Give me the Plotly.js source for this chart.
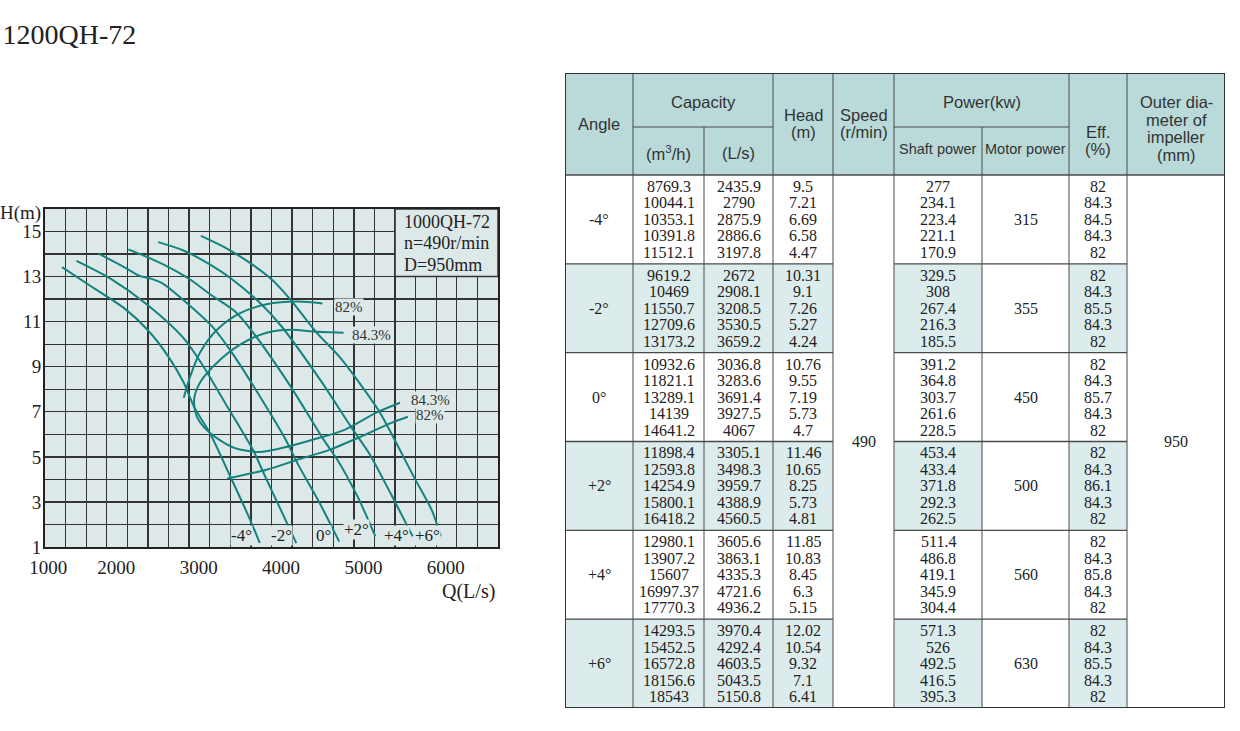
<!DOCTYPE html>
<html><head><meta charset="utf-8">
<script src="https://cdn.plot.ly/plotly-3.0.1.min.js"></script>
<style>html,body{margin:0;padding:0;background:#fff}#chart{width:1240px;height:731px}</style>
</head><body><div id="chart"></div>
<script>
// ---------------- chart data ----------------
const angleLabels = ['-4°','-2°','0°','+2°','+4°','+6°'];
// Q (L/s) and H (m) along each blade-angle curve
const qM4 = [1206,1567,1961,2250,2500,2685,2810,3000,3250,3488,3607];
const hM4 = [13.42,12.55,11.6,10.62,9.44,8.29,7.22,6.07,4.13,2.23,1.18];
const qM2 = [1382,1800,2250,2672,2908.1,3208.5,3530.5,3659.2,3850,4051];
const hM2 = [13.70,12.9,11.73,10.31,9.1,7.26,5.27,4.24,2.75,1.17];
const q0  = [1650,1961,2137,2296,2421,2700,3036.8,3283.6,3691.4,3927.5,4067,4320,4572];
const h0  = [14.02,13.42,13.05,12.9,12.71,11.9,10.76,9.55,7.19,5.73,4.7,3.05,1.24];
const qP2 = [2012,2250,2500,2762,3000,3305.1,3498.3,3959.7,4388.9,4560.5,4800,5011];
const hP2 = [14.21,13.85,13.42,12.87,12.23,11.46,10.65,8.25,5.73,4.81,3.2,1.47];
const qP4 = [2375,2681,2964,3254,3605.6,3863.1,4335.3,4721.6,4936.2,5200,5464];
const hP4 = [14.53,14.16,13.62,12.93,11.85,10.83,8.45,6.3,5.15,3.35,1.47];
const qP6 = [2893,3171,3492,3760,3970.4,4292.4,4603.5,5043.5,5150.8,5480,5700,5805];
const hP6 = [14.81,14.32,13.6,12.85,12.02,10.54,9.32,7.1,6.41,4.1,2.6,1.47];
// iso-efficiency curves
const eff82UpQ = [2685,2762,2881,3088,3369,3690,4065,4369];
const eff82UpH = [7.62,8.56,9.62,10.64,11.38,11.77,11.89,11.81];
const eff82LoQ = [3212,3690,4065,4452,4830,5205,5405];
const eff82LoH = [4.04,4.43,4.87,5.31,5.89,6.51,6.78];
const eff843Q = [4625,4250,4000,3690,3369,3088,2881,2810,2845,3000,3298,3607,3887,4250,4637,5023,5310];
const eff843H = [10.51,10.56,10.64,10.51,9.98,9.18,8.29,7.53,6.78,6.07,5.40,5.22,5.40,5.76,6.20,6.96,7.40];
const xTickLabels = ['1000','2000','3000','4000','5000','6000'];
const yTickLabels = ['1','3','5','7','9','11','13','15'];
const infoLines = ['1000QH-72','n=490r/min','D=950mm'];

// ---------------- table data ----------------
const tblAngles = ['-4°','-2°','0°','+2°','+4°','+6°'];
const capM3h = [
  [8769.3,10044.1,10353.1,10391.8,11512.1],
  [9619.2,10469,11550.7,12709.6,13173.2],
  [10932.6,11821.1,13289.1,14139,14641.2],
  [11898.4,12593.8,14254.9,15800.1,16418.2],
  [12980.1,13907.2,15607,16997.37,17770.3],
  [14293.5,15452.5,16572.8,18156.6,18543]];
const capLs = [
  [2435.9,2790,2875.9,2886.6,3197.8],
  [2672,2908.1,3208.5,3530.5,3659.2],
  [3036.8,3283.6,3691.4,3927.5,4067],
  [3305.1,3498.3,3959.7,4388.9,4560.5],
  [3605.6,3863.1,4335.3,4721.6,4936.2],
  [3970.4,4292.4,4603.5,5043.5,5150.8]];
const headM = [
  [9.5,7.21,6.69,6.58,4.47],
  [10.31,9.1,7.26,5.27,4.24],
  [10.76,9.55,7.19,5.73,4.7],
  [11.46,10.65,8.25,5.73,4.81],
  [11.85,10.83,8.45,6.3,5.15],
  [12.02,10.54,9.32,7.1,6.41]];
const shaftPower = [
  [277,234.1,223.4,221.1,170.9],
  [329.5,308,267.4,216.3,185.5],
  [391.2,364.8,303.7,261.6,228.5],
  [453.4,433.4,371.8,292.3,262.5],
  [511.4,486.8,419.1,345.9,304.4],
  [571.3,526,492.5,416.5,395.3]];
const motorPower = [315,355,450,500,560,630];
const effPct = [
  [82,84.3,84.5,84.3,82],
  [82,84.3,85.5,84.3,82],
  [82,84.3,85.7,84.3,82],
  [82,84.3,86.1,84.3,82],
  [82,84.3,85.8,84.3,82],
  [82,84.3,85.5,84.3,82]];
const speedRpm = 490;
const impellerMm = 950;

// ---------------- styles ----------------
const TEAL = '#14827f';
const PLOTBG = '#dde9e9';
const HEADBG = '#b9dad8';
const BANDBG = '#dcebeb';
const GRID = '#333333';
const TLINE = '#4a4a4a';
const SERIF = 'Liberation Serif, Times New Roman, serif';
const SANS = 'Liberation Sans, Arial, sans-serif';

const curveQ = [qM4,qM2,q0,qP2,qP4,qP6];
const curveH = [hM4,hM2,h0,hP2,hP4,hP6];
const traces = curveQ.map((q,i)=>({
  type:'scatter', mode:'lines', x:q, y:curveH[i], name:angleLabels[i],
  line:{color:TEAL,width:2,shape:'spline',smoothing:0.8}, hoverinfo:'skip'
}));
[[eff82UpQ,eff82UpH],[eff82LoQ,eff82LoH],[eff843Q,eff843H]].forEach(p=>{
  traces.push({type:'scatter',mode:'lines',x:p[0],y:p[1],
    line:{color:TEAL,width:2,shape:'spline',smoothing:0.8},hoverinfo:'skip'});
});

// grid every 250 L/s and every 1 m; labels only at the listed values
const xMin = 1000, xMax = 6500, yMin = 1, yMax = 16;
const xGrid = [], xGridText = [];
for(let v=xMin; v<=xMax; v+=250){
  xGrid.push(v);
  const lab = xTickLabels.find(t=>+t===v);
  // first label sits just right of the corner, as in the original
  xGridText.push(lab ? (v===xMin ? '\u2007\u2007\u2007'+lab : lab) : '');
}
const yGrid = [], yGridText = [];
for(let v=yMin; v<=yMax; v+=1){
  yGrid.push(v);
  const lab = yTickLabels.find(t=>+t===v);
  yGridText.push(lab || '');
}

// ---------------- layout geometry ----------------
const annotations = [];
const shapes = [];

// info box in the chart
shapes.push({type:'rect',xref:'x',yref:'y',x0:5250,x1:6500,y0:13,y1:16,
  fillcolor:PLOTBG,line:{color:GRID,width:1.5},layer:'above'});
const infoY = [15.43,14.48,13.53];
infoLines.forEach((t,i)=>annotations.push({xref:'x',yref:'y',x:5333,y:infoY[i],text:t,
  showarrow:false,xanchor:'left',yanchor:'middle',font:{family:SERIF,size:18,color:'#222'}}));

// angle labels at the curve feet
const angPos = [[3381,1.5],[3875,1.5],[4381,1.5],[4784,1.77],[5262,1.5],[5648,1.5]];
angleLabels.forEach((t,i)=>annotations.push({xref:'x',yref:'y',x:angPos[i][0],y:angPos[i][1],
  text:t,showarrow:false,bgcolor:PLOTBG,borderpad:0,font:{family:SERIF,size:17,color:'#222'}}));

// efficiency labels
[['82%',4511,11.64],['84.3%',4717,10.42],['84.3%',5429,7.53],['82%',5488,6.87]].forEach(e=>
  annotations.push({xref:'x',yref:'y',x:e[1],y:e[2],text:e[0],showarrow:false,xanchor:'left',
    yanchor:'middle',bgcolor:PLOTBG,borderpad:0,font:{family:SERIF,size:15,color:'#333'}}));

// axis titles
annotations.push({xref:'x domain',yref:'y domain',x:-0.004,y:0.988,text:'H(m)',showarrow:false,
  xanchor:'right',yanchor:'middle',font:{family:SERIF,size:19,color:'#222'}});
annotations.push({xref:'x domain',yref:'y domain',x:0.998,y:-0.131,text:'Q(L/s)',showarrow:false,
  xanchor:'right',yanchor:'middle',font:{family:SERIF,size:20,color:'#222'}});

// ---------------- table (drawn on its own hidden axes) ----------------
const colEdges = [0,68,139,208,268,329,417,504,562,660];
const headMid = 54, headBot = 102, tblBot = 635;
const grpH = (tblBot-headBot)/tblAngles.length;
const cx = c => (colEdges[c]+colEdges[c+1])/2;
const T = (x0,x1,y0,y1,fill)=>shapes.push({type:'rect',xref:'x2',yref:'y2',x0,x1,y0,y1,
  fillcolor:fill,line:{width:0},layer:'below'});
const L = (x0,y0,x1,y1,w)=>shapes.push({type:'line',xref:'x2',yref:'y2',x0,y0,x1,y1,
  line:{color:TLINE,width:w||1}});
// fills
T(0,660,0,headBot,HEADBG);
T(0,660,headBot,tblBot,'#ffffff');
const bandCols = [0,1,2,3,5,7];
tblAngles.forEach((a,g)=>{ if(g%2===1) bandCols.forEach(c=>T(colEdges[c],colEdges[c+1],headBot+g*grpH,headBot+(g+1)*grpH,BANDBG)); });
// vertical lines
for(let c=1;c<colEdges.length-1;c++){
  const top = (c===2||c===6)?headMid:0;
  L(colEdges[c],top,colEdges[c],tblBot,1);
}
// header lines
L(colEdges[1],headMid,colEdges[3],headMid,1);
L(colEdges[5],headMid,colEdges[7],headMid,1);
L(0,headBot,660,headBot,1.3);
// group lines
for(let g=1;g<tblAngles.length;g++){
  const y = headBot+g*grpH;
  L(colEdges[0],y,colEdges[4],y,1.3);
  L(colEdges[5],y,colEdges[8],y,1.3);
}
// outer border
shapes.push({type:'rect',xref:'x2',yref:'y2',x0:0,x1:660,y0:0,y1:tblBot,line:{color:'#333',width:2}});

const A = (x,y,text,font)=>annotations.push({xref:'x2',yref:'y2',x,y,text,showarrow:false,
  xanchor:'center',yanchor:'middle',font});
const hf = {family:SANS,size:16.5,color:'#333'};
const hs = {family:SANS,size:14.5,color:'#333'};
const df = {family:SERIF,size:16,color:'#222'};
A(cx(0),51,'Angle',hf);
A((colEdges[1]+colEdges[3])/2,29,'Capacity',hf);
A(cx(1),80,'(m<sup>3</sup>/h)',hf);
A(cx(2),80,'(L/s)',hf);
A(cx(3),42,'Head',hf); A(cx(3),59,'(m)',hf);
A(cx(4),42,'Speed',hf); A(cx(4),59,'(r/min)',hf);
A((colEdges[5]+colEdges[7])/2,29,'Power(kw)',hf);
A(cx(5),76,'Shaft power',hs);
A(cx(6),76,'Motor power',hs);
A(cx(7),59,'Eff.',hf); A(cx(7),76,'(%)',hf);
['Outer dia-','meter of','impeller','(mm)'].forEach((t,i)=>A(cx(8),29+i*17.5,t,hf));

const colData = {1:capM3h,2:capLs,3:headM,5:shaftPower,7:effPct};
tblAngles.forEach((ang,g)=>{
  const mid = headBot+g*grpH+grpH/2;
  A(cx(0),mid,ang,df);
  A(cx(6),mid,String(motorPower[g]),df);
  Object.keys(colData).forEach(c=>{
    colData[c][g].forEach((v,i)=>A(cx(+c),mid+(i-2)*16.5,String(v),df));
  });
});
A(cx(4),(headBot+tblBot)/2,String(speedRpm),df);
A(cx(8),(headBot+tblBot)/2,String(impellerMm),df);

const layout = {
  width:1240,height:731,
  margin:{l:45,r:15,t:73,b:23},
  paper_bgcolor:'#fff',plot_bgcolor:PLOTBG,
  showlegend:false,hovermode:false,
  title:{text:'1200QH-72',xref:'container',yref:'container',x:0.002,y:0.953,xanchor:'left',yanchor:'middle',
    font:{family:SERIF,size:28,color:'#222'}},
  xaxis:{domain:[0,453/1180],range:[xMin,xMax],tickmode:'array',tickvals:xGrid,
    ticktext:xGridText,ticks:'',ticklabelshift:-11,ticklabelstandoff:2,ticklabeloverflow:'allow',
    showgrid:true,gridcolor:GRID,gridwidth:1.3,
    showline:true,linecolor:'#222',linewidth:2,mirror:true,zeroline:false,fixedrange:true,
    tickfont:{family:SERIF,size:19,color:'#222'}},
  yaxis:{domain:[(708-547)/635,(708-209)/635],range:[yMin,yMax],tickmode:'array',tickvals:yGrid,
    ticktext:yGridText,ticks:'',ticklabelstandoff:-2,ticklabeloverflow:'allow',
    showgrid:true,gridcolor:GRID,gridwidth:1.3,
    showline:true,linecolor:'#222',linewidth:2,mirror:true,zeroline:false,fixedrange:true,
    tickfont:{family:SERIF,size:19,color:'#222'}},
  xaxis2:{domain:[520/1180,1],range:[0,660],visible:false,fixedrange:true,anchor:'y2'},
  yaxis2:{domain:[0,1],range:[635,0],visible:false,fixedrange:true,anchor:'x2'},
  shapes,annotations
};
// invisible point to activate the table axes
traces.push({type:'scatter',mode:'markers',x:[0],y:[0],xaxis:'x2',yaxis:'y2',
  marker:{opacity:0},hoverinfo:'skip'});
Plotly.newPlot('chart',traces,layout,{staticPlot:true,displayModeBar:false});
</script></body></html>
